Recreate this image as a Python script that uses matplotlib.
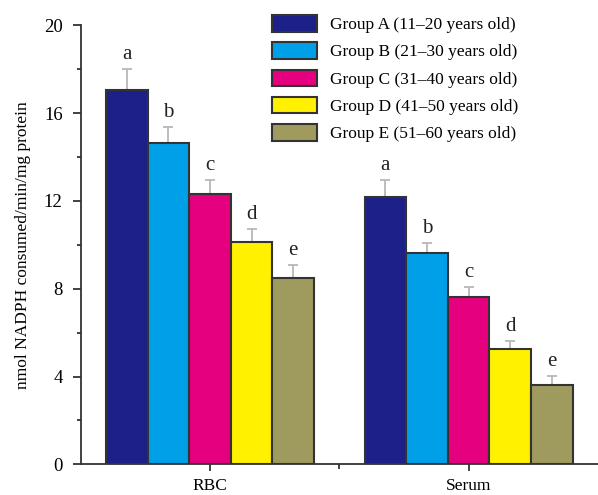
import numpy as np
import matplotlib
matplotlib.use("Agg")
import matplotlib.pyplot as plt

plt.rcParams['font.family'] = ['Liberation Serif', 'DejaVu Serif']

# data
categories = ["RBC", "Serum"]
groups = ["Group A (11\u201320 years old)",
          "Group B (21\u201330 years old)",
          "Group C (31\u201340 years old)",
          "Group D (41\u201350 years old)",
          "Group E (51\u201360 years old)"]
letters = ["a", "b", "c", "d", "e"]
colors = ["#1d2088", "#00a0e9", "#e4007f", "#fff100", "#9f9a5e"]

means = {
    "RBC":   [17.05, 14.65, 12.31, 10.13, 8.49],
    "Serum": [12.19, 9.61, 7.64, 5.25, 3.61],
}
errs = {
    "RBC":   [0.95, 0.70, 0.64, 0.60, 0.58],
    "Serum": [0.76, 0.48, 0.45, 0.38, 0.41],
}

fig = plt.figure(figsize=(5.98, 4.95), dpi=100)
ax = fig.add_axes([80.7/598, (495-464.3)/495, (598-80.7)/598, (464.3-25.3)/495])

x = np.arange(len(categories))
w = 0.161
edge = "#333333"

for i, g in enumerate(groups):
    pos = x + (i - 2) * w
    vals = [means[c][i] for c in categories]
    er = [errs[c][i] for c in categories]
    ax.bar(pos, vals, w, color=colors[i], edgecolor=edge, linewidth=1.5,
           label=g, zorder=3)
    ax.errorbar(pos, vals, yerr=[np.zeros(len(er)), er], fmt='none',
                ecolor="#b8b8b8", elinewidth=1.3, capsize=3.5, capthick=1.3,
                zorder=2)
    for p, v, e in zip(pos, vals, er):
        ax.text(p, v + e + 0.45, letters[i], ha='center', va='baseline',
                fontsize=15, color="#222222")

ax.set_xlim(-0.5, 1.5)
ax.set_ylim(0, 20)
ax.set_xticks(x)
ax.set_xticklabels(categories, fontsize=12.5)
ax.set_xticks([0.5], minor=True)
ax.set_yticks(np.arange(0, 21, 4))
ax.set_yticks(np.arange(2, 20, 4), minor=True)
ax.tick_params(axis='y', which='major', direction='out', length=6, width=1.3,
               pad=7, labelsize=13.5, color=edge)
ax.tick_params(axis='y', which='minor', direction='out', length=3, width=1.3,
               color=edge)
ax.tick_params(axis='x', which='major', direction='out', length=5, width=1.3,
               pad=5, color=edge)
ax.tick_params(axis='x', which='minor', direction='out', length=3.5, width=1.3,
               color=edge)

for s in ['top', 'right']:
    ax.spines[s].set_visible(False)
for s in ['left', 'bottom']:
    ax.spines[s].set_linewidth(1.3)
    ax.spines[s].set_color(edge)

ax.set_ylabel("nmol NADPH consumed/min/mg protein", fontsize=12.5, labelpad=9)

leg = ax.legend(loc='upper left', bbox_to_anchor=(271.7/598, 1 - 15/495),
                bbox_transform=fig.transFigure, frameon=False, fontsize=12.5,
                handlelength=2.6, handleheight=1.1, handletextpad=0.75,
                labelspacing=0.52, borderpad=0, borderaxespad=0)

fig.savefig("out.png", dpi=100)
